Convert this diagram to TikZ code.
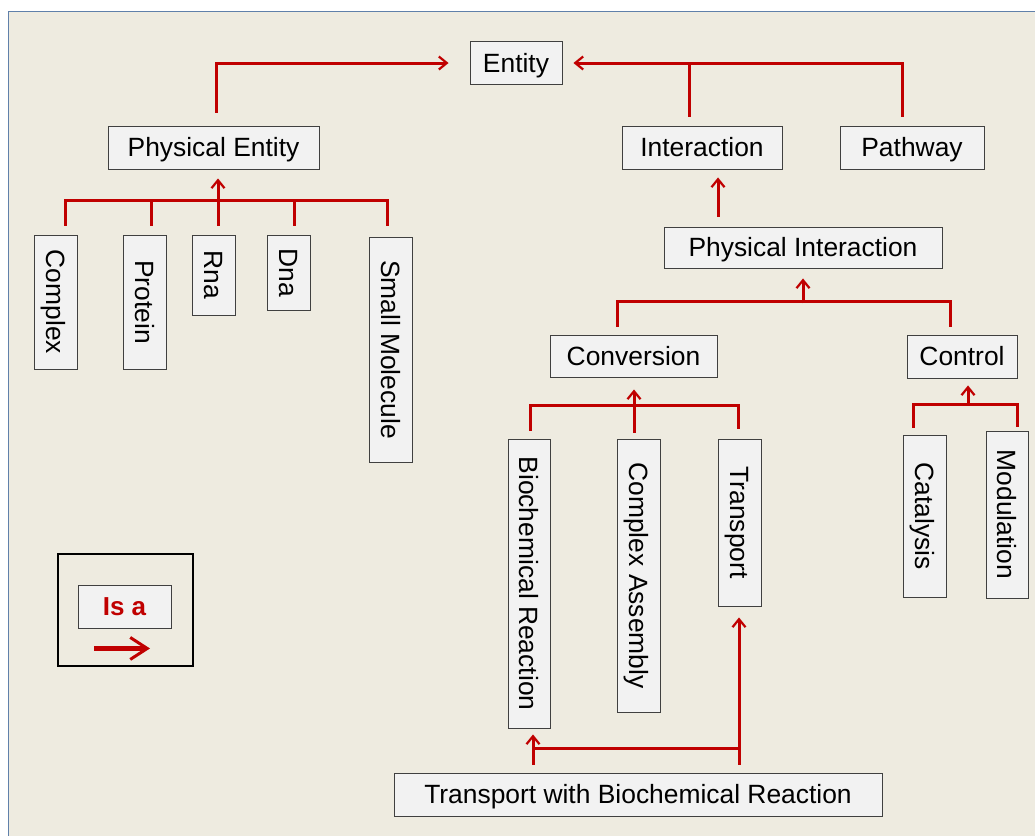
\documentclass[tikz,border=0pt]{standalone}
\usepackage{fontspec}
\setmainfont{Liberation Sans}
\usetikzlibrary{arrows.meta,calc}
\definecolor{bgbeige}{HTML}{EEEBE0}
\definecolor{bgborder}{HTML}{6080AA}
\definecolor{boxfill}{HTML}{F2F2F2}
\definecolor{boxline}{HTML}{404040}
\definecolor{isared}{HTML}{C00000}
\tikzset{
  cls/.style={draw=boxline, fill=boxfill, line width=0.9pt, inner sep=0pt,
    font=\fontsize{26.4}{30}\selectfont, text=black, text height=18.9pt, text depth=0pt},
  hbox/.style={cls, minimum height=43pt},
  vbox/.style={cls, rotate=-90, minimum height=43pt},
  rl/.style={draw=isared, line width=3pt},
  isa/.style={rl, -{Straight Barb[length=8pt,width=13pt,line width=2.2pt]}},
  isabig/.style={draw=isared, line width=4.2pt, -{Straight Barb[length=17pt,width=22pt,line width=3pt]}},
}
\begin{document}
\begin{tikzpicture}[x=1pt,y=-1pt]
\useasboundingbox (0,0) rectangle (1035,835);
\fill[white] (0,0) rectangle (1035,835);
\draw[bgborder, fill=bgbeige, line width=1.8pt] (8.5,11.5) rectangle (1045,845);

% top level
\node[hbox, minimum width=92pt] (entity) at (516,63) {Entity};
\node[hbox, minimum width=211pt] (pe) at (213.5,147.5) {Physical Entity};
\node[hbox, minimum width=160pt] (interaction) at (702,147.5) {Interaction};
\node[hbox, minimum width=144pt] (pathway) at (912,147.5) {Pathway};
\node[hbox, minimum width=278pt, minimum height=41pt] (pi) at (803,247.5) {Physical Interaction};
\node[hbox, minimum width=167pt, minimum height=42pt] (conv) at (633.5,356) {Conversion};
\node[hbox, minimum width=110pt] (control) at (962,356.5) {Control};

% physical entity children
\node[vbox, minimum width=134pt] (complex) at (55.5,302) {Complex};
\node[vbox, minimum width=134pt] (protein) at (144.5,302) {Protein};
\node[vbox, minimum width=80pt] (rna) at (214,275) {Rna};
\node[vbox, minimum width=75pt] (dna) at (288.5,272.5) {Dna};
\node[vbox, minimum width=225pt] (smol) at (390.5,349.5) {Small Molecule};

% conversion children
\node[vbox, minimum width=289pt, minimum height=42pt] (bio) at (529,583.5) {Biochemical Reaction};
\node[vbox, minimum width=273pt] (ca) at (638.5,575.5) {Complex Assembly};
\node[vbox, minimum width=167pt] (trans) at (739.5,522.5) {Transport};

% control children
\node[vbox, minimum width=162pt] (cat) at (924.5,516) {Catalysis};
\node[vbox, minimum width=167pt, minimum height=42pt] (mod) at (1007,514.5) {Modulation};

% bottom
\node[hbox, minimum width=488pt] (twbr) at (638,794.5) {Transport with Biochemical Reaction};

% legend
\node[draw=black, line width=2.2pt, minimum width=135pt, minimum height=112pt, inner sep=0pt] (legend) at (125.5,610) {};
\node[hbox, minimum width=93pt, text=isared, font=\fontsize{26}{30}\selectfont\bfseries] (isabox) at (124.5,606.5) {Is a};
\draw[isabig] ($(isabox.south)+(-30.5,20)$) -- ($(isabox.south)+(25.5,20)$);

% Entity connections
\draw[isa] ($(pe.north)+(3,-13)$) |- ($(entity.west)+(-21,0)$);
\draw[isa] ($(pathway.north)+(-10,-9)$) |- ($(entity.east)+(11,0)$);
\draw[rl] ($(interaction.north)+(-13,-9)$) -- ($(interaction.north)+(-13,-63)$);

% Physical Interaction -> Interaction
\draw[isa] ($(pi.north)+(-85,-10)$) -- ($(interaction.south)+(16,8)$);

% physical entity tree
\draw[rl] ($(complex.west)+(10,-9)$) |- ($(smol.west)+(-3.5,-36)$) -- ($(smol.west)+(-3.5,-11)$);
\draw[rl] ($(protein.west)+(6.5,-9)$) -- ($(protein.west)+(6.5,-34)$);
\draw[rl] ($(dna.west)+(5.5,-9)$) -- ($(dna.west)+(5.5,-34)$);
\draw[isa] ($(rna.west)+(4,-9)$) -- ($(pe.south)+(4.5,9)$);

% Physical interaction tree
\draw[rl] ($(conv.north)+(-16.5,-8)$) |- ($(control.north)+(-12,-33)$) -- ($(control.north)+(-12,-8)$);
\draw[isa] ($(pi.south)+(0,35)$) -- ($(pi.south)+(0,10)$);

% Conversion tree
\draw[rl] ($(bio.west)+(1,-8)$) |- ($(trans.west)+(-1.5,-33)$) -- ($(trans.west)+(-1.5,-10)$);
\draw[isa] ($(ca.west)+(-4.5,-6)$) -- ($(conv.south)+(0.5,12)$);

% Control tree
\draw[rl] ($(cat.west)+(-11.5,-7)$) |- ($(mod.west)+(10,-26)$) -- ($(mod.west)+(10,-4)$);
\draw[isa] ($(control.south)+(6,27)$) -- ($(control.south)+(6,7)$);

% Transport with Biochemical Reaction
\draw[isa] ($(twbr.north)+(-105,-8)$) -- ($(bio.east)+(4,6)$);
\draw[isa] ($(twbr.north)+(101,-8)$) -- ($(trans.east)+(-0.5,11)$);
\draw[rl] ($(twbr.north)+(-105,-24)$) -- ($(twbr.north)+(101,-24)$);
\end{tikzpicture}
\end{document}
